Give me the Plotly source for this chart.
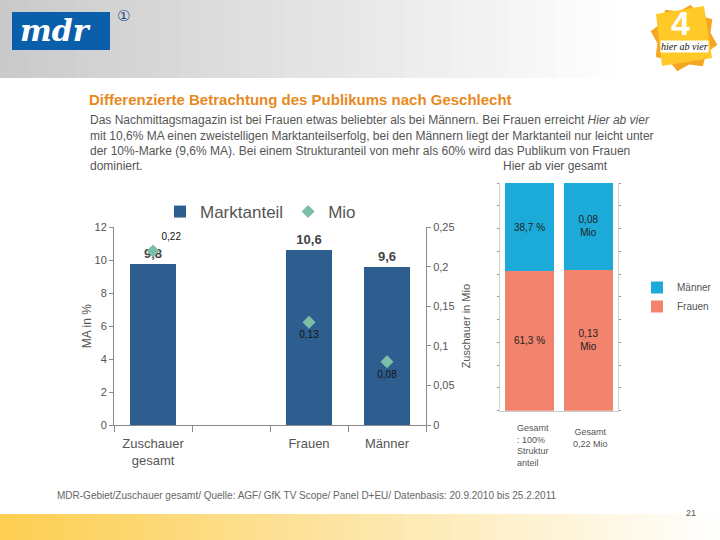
import plotly.graph_objects as go
import math

# ---------------- data ----------------
categories = ["Zuschauer<br>gesamt", " ", "Frauen", "Männer"]
marktanteil = [9.8, None, 10.6, 9.6]          # MA in %
mio = [0.22, None, 0.13, 0.08]                # Zuschauer in Mio
mio_labels = ["0,22", "", "0,13", "0,08"]

struct_cats = ["Struktur", "Mio"]
frauen_vals = [61.3, 0.13]
maenner_vals = [38.7, 0.08]
frauen_labels = ["61,3 %", "0,13<br>Mio"]
maenner_labels = ["38,7 %", "0,08<br>Mio"]

W, H = 720, 540
def px(x): return x / W
def py(y): return 1 - y / H

FONT = "Liberation Sans"
GRAY = "#555555"

fig = go.Figure()

# ---- left chart ----
fig.add_trace(go.Bar(
    x=categories, y=marktanteil, name="Marktanteil",
    marker=dict(color="#2E5E90", line=dict(width=0)),
    width=0.58,
    text=[("" if v is None else "<b>" + f"{v:.1f}".replace(".", ",") + "</b>") for v in marktanteil],
    textposition="outside", cliponaxis=False,
    textfont=dict(size=13, color="#444444", family=FONT),
    xaxis="x", yaxis="y", legend="legend", hoverinfo="skip",
))
fig.add_trace(go.Scatter(
    x=categories, y=mio, name="Mio", mode="markers",
    marker=dict(symbol="diamond", size=10, color="#7DBFA6"),
    xaxis="x", yaxis="y2", legend="legend", hoverinfo="skip",
))
fig.add_trace(go.Scatter(
    x=categories, y=mio, mode="markers+text", text=mio_labels,
    marker=dict(size=12, color="rgba(0,0,0,0)"),
    textposition=["top right", "bottom center", "bottom center", "bottom center"],
    textfont=dict(size=10, color="#111111", family=FONT),
    xaxis="x", yaxis="y2", showlegend=False, hoverinfo="skip", cliponaxis=False,
))

# ---- right chart (100 % stacked) ----
tot = [f + m for f, m in zip(frauen_vals, maenner_vals)]
frauen_pct = [f / t * 100 for f, t in zip(frauen_vals, tot)]
maenner_pct = [m / t * 100 for m, t in zip(maenner_vals, tot)]

fig.add_trace(go.Bar(
    x=struct_cats, y=frauen_pct, name="Frauen", width=0.83,
    marker=dict(color="#F2836D", line=dict(width=0)),
    text=frauen_labels, textposition="inside", insidetextanchor="middle",
    textfont=dict(size=10, color="#222222", family=FONT),
    xaxis="x3", yaxis="y3", legend="legend2", hoverinfo="skip",
))
fig.add_trace(go.Bar(
    x=struct_cats, y=maenner_pct, name="Männer", width=0.83,
    marker=dict(color="#1CAAD8", line=dict(width=0)),
    text=maenner_labels, textposition="inside", insidetextanchor="middle",
    textfont=dict(size=10, color="#222222", family=FONT),
    xaxis="x3", yaxis="y3", legend="legend2", hoverinfo="skip",
))

# ---------------- decorations ----------------
shapes = []
n = 48
for i in range(n):
    x0 = i * W / n
    x1 = (i + 1) * W / n
    t = min(1.0, (x0 + x1) / 2 / 620)
    c = int(202 + (255 - 202) * t)
    shapes.append(dict(type="rect", xref="paper", yref="paper",
                       x0=px(x0), x1=px(x1) + 0.001, y0=py(78), y1=py(0),
                       fillcolor=f"rgb({c},{c},{c})", line=dict(width=0), layer="below"))
for i in range(n):
    x0 = i * W / n
    x1 = (i + 1) * W / n
    t = min(1.0, (x0 + x1) / 2 / 720)
    r = int(252 + (255 - 252) * t)
    g = int(206 + (255 - 206) * t)
    b = int(80 + (255 - 80) * t)
    shapes.append(dict(type="rect", xref="paper", yref="paper",
                       x0=px(x0), x1=px(x1) + 0.001, y0=py(540), y1=py(514),
                       fillcolor=f"rgb({r},{g},{b})", line=dict(width=0), layer="below"))
shapes.append(dict(type="rect", xref="paper", yref="paper",
                   x0=px(12), x1=px(110), y0=py(50), y1=py(12),
                   fillcolor="#0A5FAA", line=dict(width=0)))
cx, cy = 684, 38
pts = []
for k in range(16):
    ang = math.pi * 2 * k / 16 + 0.2
    rr = 34 if k % 2 == 0 else 27
    pts.append((cx + rr * math.cos(ang), cy + rr * math.sin(ang)))
path = "M " + " L ".join(f"{px(x)},{py(y)}" for x, y in pts) + " Z"
shapes.append(dict(type="path", xref="paper", yref="paper", path=path,
                   fillcolor="#F5A623", line=dict(width=0)))
tile = [(656, 14), (704, 6), (712, 58), (662, 66)]
path2 = "M " + " L ".join(f"{px(x)},{py(y)}" for x, y in tile) + " Z"
shapes.append(dict(type="path", xref="paper", yref="paper", path=path2,
                   fillcolor="#FFC928", line=dict(width=0)))

def ann(text, x, y, size, color=GRAY, family=FONT, xanchor="center", yanchor="middle", **kw):
    return dict(text=text, x=px(x), y=py(y), xref="paper", yref="paper",
                xanchor=xanchor, yanchor=yanchor, showarrow=False,
                font=dict(size=size, color=color, family=family), **kw)

annotations = [
    ann("<i><b>mdr</b></i>", 55, 30, 30, color="white", family="DejaVu Serif"),
    ann("①", 123, 16, 15, color="#1E4F8A", family="DejaVu Sans"),
    ann("<b>4</b>", 680, 23, 34, color="white"),
    ann("<i>hier ab vier</i>", 684, 47, 10, color="#111111", family="Liberation Serif",
        bgcolor="white", borderpad=0),
    ann("<b>Differenzierte Betrachtung des Publikums nach Geschlecht</b>", 87, 100, 15,
        color="#E8891E", xanchor="left"),
]
para = [
    ("Das Nachmittagsmagazin ist bei Frauen etwas beliebter als bei Männern. Bei Frauen erreicht <i>Hier ab vier</i>", 120),
    ("mit 10,6% MA einen zweistelligen Marktanteilserfolg, bei den Männern liegt der Marktanteil nur leicht unter", 136),
    ("der 10%-Marke (9,6% MA). Bei einem Strukturanteil von mehr als 60% wird das Publikum von Frauen", 151),
    ("dominiert.", 166),
]
for txt, yy in para:
    annotations.append(ann(txt, 88, yy, 12, xanchor="left"))
annotations += [
    ann("Hier ab vier gesamt", 555, 166, 12),
    ann("Gesamt<br>: 100%<br>Struktur<br>anteil", 515, 421, 9, xanchor="left",
        yanchor="top", align="left"),
    ann("Gesamt<br>0,22 Mio", 590, 425, 9, yanchor="top", align="center"),
    ann("MDR-Gebiet/Zuschauer gesamt/ Quelle: AGF/ GfK TV Scope/ Panel D+EU/ Datenbasis: 20.9.2010 bis 25.2.2011",
        55, 495, 10, color="#666666", xanchor="left"),
    ann("21", 698, 513, 9, xanchor="right"),
]

axcol = "#8A8A8A"
fig.update_layout(
    width=W, height=H, margin=dict(l=0, r=0, t=0, b=0, autoexpand=False),
    paper_bgcolor="white", plot_bgcolor="rgba(0,0,0,0)",
    font=dict(family=FONT, color=GRAY),
    separators=",.",
    barmode="stack",
    shapes=shapes, annotations=annotations,
    xaxis=dict(domain=[px(114), px(426)], anchor="y", categoryorder="array",
               categoryarray=categories, showline=True, linecolor=axcol,
               ticks="outside", tickson="boundaries", ticklen=6, tickcolor=axcol,
               ticklabelstandoff=6,
               tickfont=dict(size=13, color=GRAY), showgrid=False, fixedrange=True),
    yaxis=dict(domain=[py(425), py(227.3)], anchor="x", range=[0, 12], dtick=2,
               showline=True, linecolor=axcol, ticks="outside", ticklen=4, tickcolor=axcol,
               showgrid=False, zeroline=False, tickfont=dict(size=11, color=GRAY),
               title=dict(text="MA in %", font=dict(size=12, color=GRAY), standoff=0)),
    yaxis2=dict(overlaying="y", side="right", anchor="x", range=[0, 0.25], dtick=0.05,
                showline=True, linecolor=axcol, ticks="outside", ticklen=4, tickcolor=axcol,
                showgrid=False, zeroline=False, tickfont=dict(size=11, color=GRAY),
                title=dict(text="Zuschauer in Mio", font=dict(size=11, color=GRAY), standoff=8)),
    xaxis3=dict(domain=[px(500), px(618)], anchor="y3", showticklabels=False,
                showline=True, linecolor="#CCCCCC", showgrid=False, zeroline=False),
    yaxis3=dict(domain=[py(410.7), py(183)], anchor="x3", range=[0, 100], dtick=10,
                showticklabels=False, showline=True, linecolor="#D0D0D0",
                ticks="outside", ticklen=2, tickcolor="#999999", mirror="ticks",
                showgrid=False, zeroline=False),
    legend=dict(orientation="h", x=px(160), y=py(194), xanchor="left", yanchor="top",
                traceorder="normal", bgcolor="rgba(0,0,0,0)",
                font=dict(size=17, color=GRAY), itemwidth=30),
    legend2=dict(orientation="v", x=px(637), y=py(273), xanchor="left", yanchor="top",
                 traceorder="reversed", bgcolor="rgba(0,0,0,0)",
                 font=dict(size=10, color=GRAY), itemwidth=30, tracegroupgap=0),
)

fig.write_html("out.html", config={"displayModeBar": False},
               post_script="document.body.style.margin='0px';document.body.style.overflow='hidden';")
